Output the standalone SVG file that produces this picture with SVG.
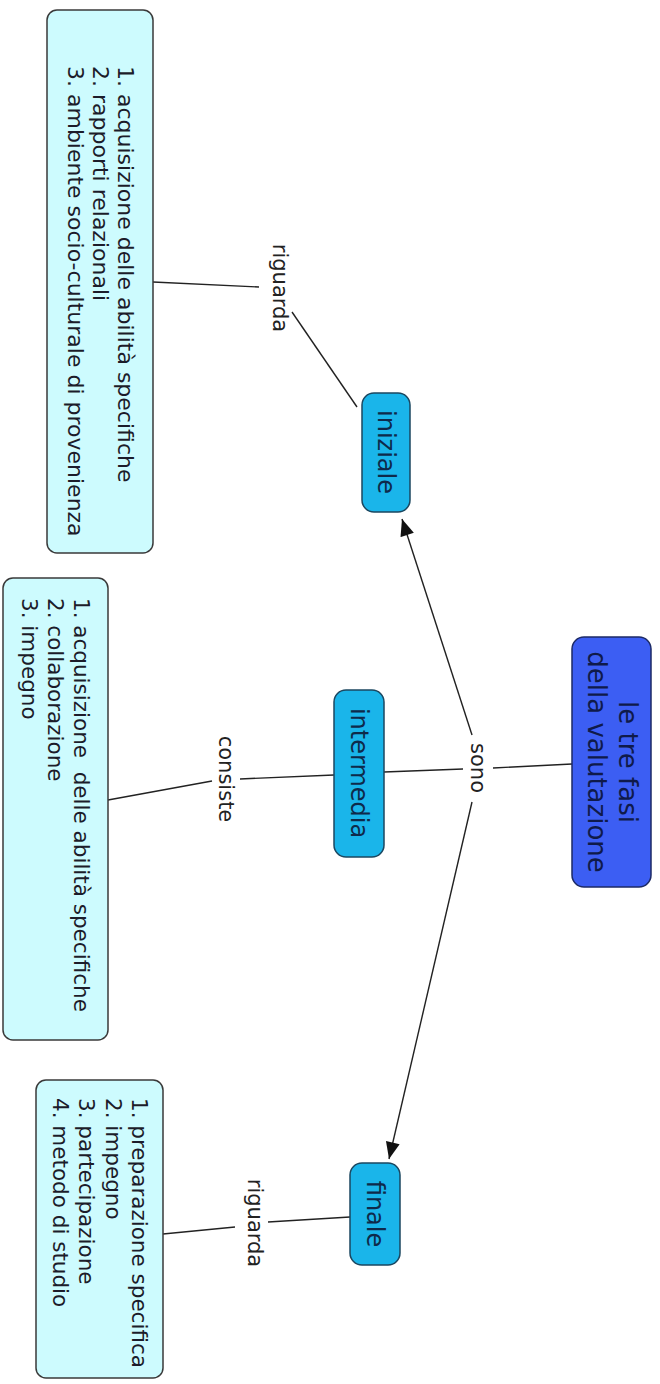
<svg xmlns="http://www.w3.org/2000/svg" width="660" height="1384" viewBox="0 0 660 1384">
<defs>
<marker id="arr" viewBox="0 0 12 10" refX="12" refY="5" markerWidth="18" markerHeight="14" markerUnits="userSpaceOnUse" orient="auto">
<path d="M0,0 L12,5 L0,10 z" fill="#111"/>
</marker>
<style>
text{font-family:"DejaVu Sans",Verdana,"Liberation Sans",sans-serif;dominant-baseline:central}
.list rect{fill:#cdfbfe;stroke:#3a3a3a;stroke-width:1.5}
.list text{font-size:21.5px;fill:#1c1c2a}
.node rect{fill:#1ab5ea;stroke:#1b4760;stroke-width:1.5}
.node text{font-size:24px;fill:#0e2a4a;text-anchor:middle}
.main rect{fill:#3c5ef3;stroke:#1c2a66;stroke-width:1.5}
.main text{font-size:26px;fill:#0f1a4a;text-anchor:middle}
.lbl{font-size:21px;fill:#222;text-anchor:middle}
.conn line{stroke:#222;stroke-width:1.4;fill:none}
</style>
</defs>
<rect width="660" height="1384" fill="#fff"/>
<g id="connectors" class="conn">
<line x1="153" y1="282" x2="259" y2="287"/>
<line x1="292" y1="312" x2="357" y2="407"/>
<line x1="108" y1="800" x2="212" y2="781"/>
<line x1="240" y1="779" x2="334" y2="775"/>
<line x1="572" y1="764" x2="493" y2="768"/>
<line x1="463" y1="769" x2="384" y2="772"/>
<line x1="472" y1="735" x2="402" y2="519" marker-end="url(#arr)"/>
<line x1="472" y1="802" x2="389" y2="1159" marker-end="url(#arr)"/>
<line x1="163" y1="1234" x2="235" y2="1227"/>
<line x1="268" y1="1222" x2="350" y2="1217"/>
<text class="lbl" transform="translate(280,288) rotate(90)">riguarda</text>
<text class="lbl" transform="translate(226,779) rotate(90)">consiste</text>
<text class="lbl" transform="translate(478,768) rotate(90)">sono</text>
<text class="lbl" transform="translate(255,1223) rotate(90)">riguarda</text>
</g>
<g id="main" class="main">
<rect x="572" y="637" width="79" height="250" rx="12"/>
<text transform="translate(628,762) rotate(90)"><tspan x="0" y="0">le tre fasi</tspan><tspan x="0" y="31">della valutazione</tspan></text>
</g>
<g id="iniziale" class="node">
<rect x="362" y="393" width="48" height="119" rx="12"/>
<text transform="translate(386,452) rotate(90)">iniziale</text>
</g>
<g id="intermedia" class="node">
<rect x="334" y="690" width="50" height="167" rx="12"/>
<text transform="translate(359,773) rotate(90)">intermedia</text>
</g>
<g id="finale" class="node">
<rect x="350" y="1163" width="50" height="102" rx="12"/>
<text transform="translate(375,1214) rotate(90)">finale</text>
</g>
<g id="list-iniziale" class="list">
<rect x="47" y="10" width="106" height="543" rx="10"/>
<text transform="translate(126,66) rotate(90)" style="font-size:22px"><tspan x="0" y="0">1. acquisizione delle abilità specifiche</tspan><tspan x="0" y="25">2. rapporti relazionali</tspan><tspan x="0" y="50">3. ambiente socio-culturale di provenienza</tspan></text>
</g>
<g id="list-intermedia" class="list">
<rect x="3" y="578" width="105" height="462" rx="10"/>
<text transform="translate(82,598) rotate(90)" xml:space="preserve"><tspan x="0" y="0">1. acquisizione  delle abilità specifiche</tspan><tspan x="0" y="26">2. collaborazione</tspan><tspan x="0" y="52">3. impegno</tspan></text>
</g>
<g id="list-finale" class="list">
<rect x="36" y="1080" width="127" height="298" rx="10"/>
<text transform="translate(140,1098) rotate(90)"><tspan x="0" y="0">1. preparazione specifica</tspan><tspan x="0" y="26.5">2. impegno</tspan><tspan x="0" y="53">3. partecipazione</tspan><tspan x="0" y="79.5">4. metodo di studio</tspan></text>
</g>
</svg>
